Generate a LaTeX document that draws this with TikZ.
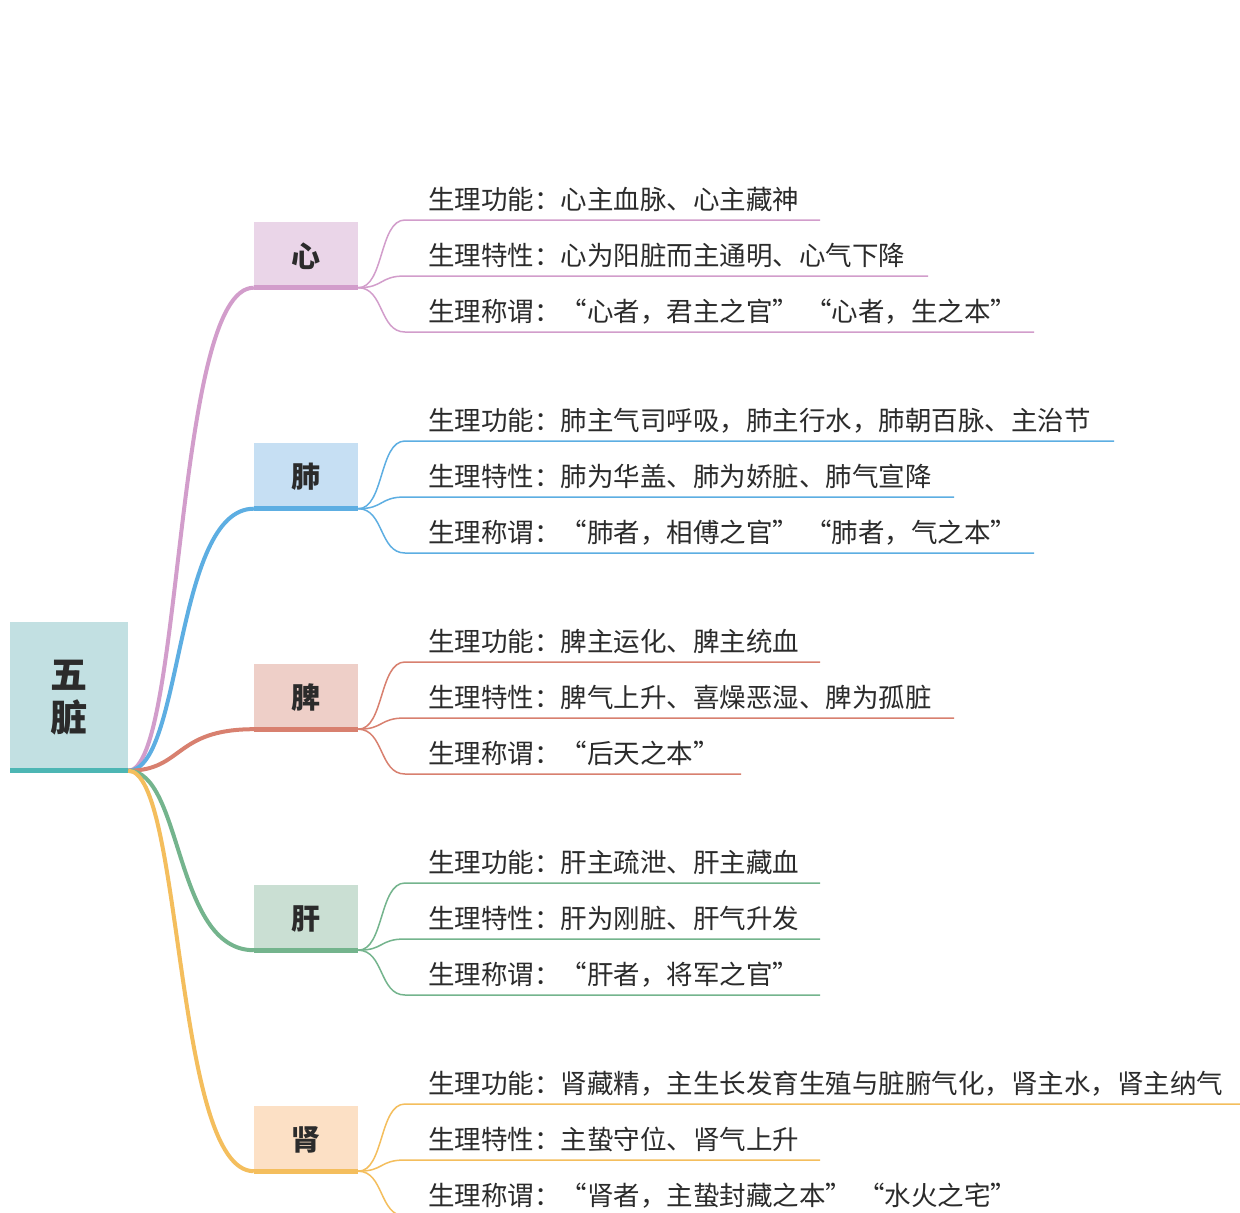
\documentclass[tikz,border=0pt]{standalone}
\usepackage{fontspec}
\setmainfont{Noto Sans CJK SC}
\definecolor{pinkF}{HTML}{EAD5E8}\definecolor{pinkL}{HTML}{D29DCB}
\definecolor{blueF}{HTML}{C6DFF3}\definecolor{blueL}{HTML}{5DAEE2}
\definecolor{redF}{HTML}{EECFC8}\definecolor{redL}{HTML}{D8806F}
\definecolor{greenF}{HTML}{CADFD3}\definecolor{greenL}{HTML}{74B48D}
\definecolor{yellowF}{HTML}{FCE0C5}\definecolor{yellowL}{HTML}{F4BE5D}
\definecolor{rootF}{HTML}{C2E0E2}\definecolor{rootL}{HTML}{4DB6B4}
\definecolor{txt}{HTML}{2B2B2B}
\tikzset{
  organbox/.style={minimum width=104pt, minimum height=68pt, inner sep=0pt, text=txt,
    font=\fontsize{29}{32}\selectfont\bfseries},
  leaftext/.style={inner sep=0pt, text=txt, font=\fontsize{26.5}{30}\selectfont},
  leaflink/.style={draw=#1, line width=1.5pt},
  rootlink/.style={draw=#1, line width=4pt},
}
\newcommand\zangorgan[5]{%
  \node[organbox,fill=#3] (#1) at (306,#2) {#5};
  \fill[#4] (#1.south west) rectangle ([yshift=5pt]#1.south east);
  \draw[rootlink=#4] ([yshift=2.5pt]root.south east) .. controls +(55,0) and +(-80,0) .. ([yshift=2.5pt]#1.south west);
}
\newcommand\zangleaf[6]{%
  \coordinate (#2s) at (405,#3);
  \coordinate (#2e) at (#4,#3);
  \node[leaftext,anchor=base west] (#2) at (428,#3-11) {#6};
  \draw[leaflink=#5] ([yshift=2.5pt]#1.south east) .. controls +(26,0) and +(-26,0) .. (#2s) -- (#2e);
}
\begin{document}
\begin{tikzpicture}[x=1pt,y=-1pt]
\useasboundingbox[fill=white] (0,0) rectangle (1240,1213);
% root
\node[fill=rootF, minimum width=118pt, minimum height=151pt, inner sep=0pt, text=txt,
  align=center, font=\fontsize{37}{43}\selectfont\bfseries] (root) at (69,697.5) {五\\脏};
\fill[rootL] (root.south west) rectangle ([yshift=5pt]root.south east);
% organs
\zangorgan{xin}{256}{pinkF}{pinkL}{心}
\zangorgan{fei}{477}{blueF}{blueL}{肺}
\zangorgan{pi}{697.5}{redF}{redL}{脾}
\zangorgan{gan}{918.5}{greenF}{greenL}{肝}
\zangorgan{shen}{1139.5}{yellowF}{yellowL}{肾}
% leaves
\zangleaf{xin}{xa}{220}{820}{pinkL}{生理功能：心主血脉、心主藏神}
\zangleaf{xin}{xb}{276}{928}{pinkL}{生理特性：心为阳脏而主通明、心气下降}
\zangleaf{xin}{xc}{332}{1034}{pinkL}{生理称谓：“心者，君主之官” “心者，生之本”}
\zangleaf{fei}{fa}{441}{1114}{blueL}{生理功能：肺主气司呼吸，肺主行水，肺朝百脉、主治节}
\zangleaf{fei}{fb}{497}{954}{blueL}{生理特性：肺为华盖、肺为娇脏、肺气宣降}
\zangleaf{fei}{fc}{553}{1034}{blueL}{生理称谓：“肺者，相傅之官” “肺者，气之本”}
\zangleaf{pi}{pa}{662}{820}{redL}{生理功能：脾主运化、脾主统血}
\zangleaf{pi}{pb}{718}{954}{redL}{生理特性：脾气上升、喜燥恶湿、脾为孤脏}
\zangleaf{pi}{pc}{774}{741}{redL}{生理称谓：“后天之本”}
\zangleaf{gan}{ga}{883}{820}{greenL}{生理功能：肝主疏泄、肝主藏血}
\zangleaf{gan}{gb}{939}{820}{greenL}{生理特性：肝为刚脏、肝气升发}
\zangleaf{gan}{gc}{995}{820}{greenL}{生理称谓：“肝者，将军之官”}
\zangleaf{shen}{sa}{1104}{1240}{yellowL}{生理功能：肾藏精，主生长发育生殖与脏腑气化，肾主水，肾主纳气}
\zangleaf{shen}{sb}{1160}{820}{yellowL}{生理特性：主蛰守位、肾气上升}
\zangleaf{shen}{sc}{1216}{1034}{yellowL}{生理称谓：“肾者，主蛰封藏之本” “水火之宅”}
\end{tikzpicture}
\end{document}
